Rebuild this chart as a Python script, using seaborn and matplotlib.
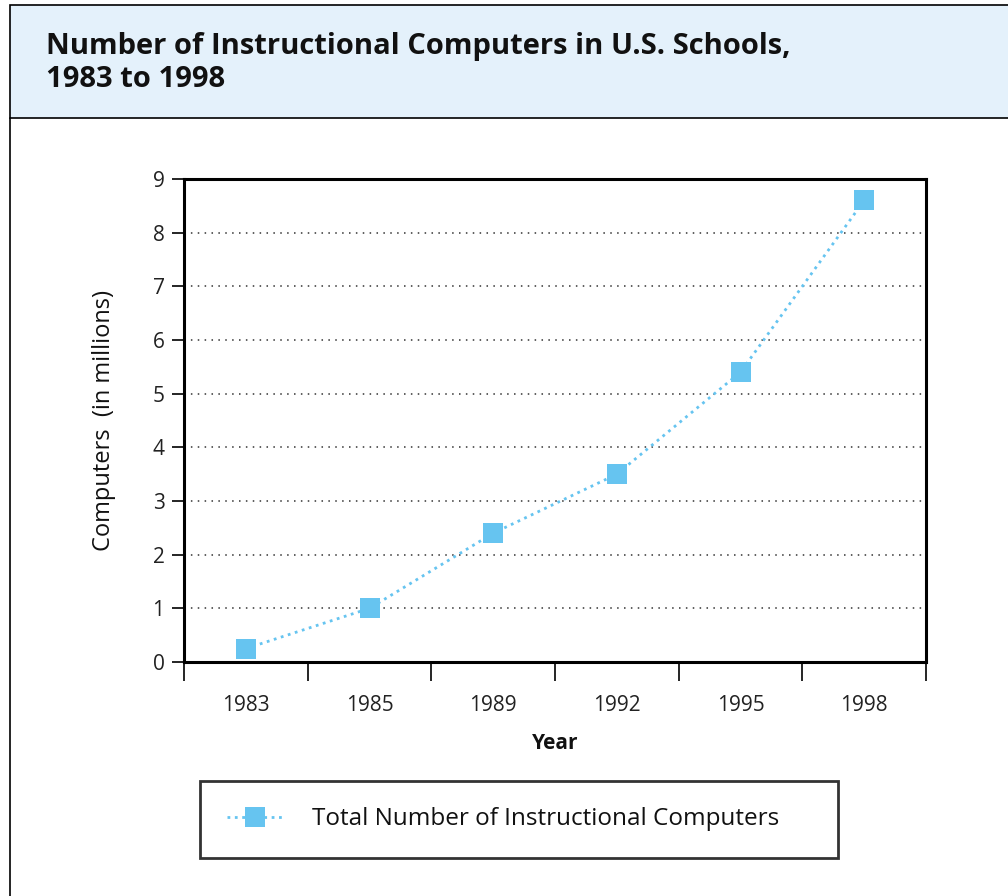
import matplotlib
matplotlib.use('Agg')
import matplotlib.pyplot as plt
from matplotlib.patches import Rectangle
from matplotlib.lines import Line2D
from matplotlib.ticker import FixedLocator
import seaborn as sns
import pandas as pd

years = ['1983', '1985', '1989', '1992', '1995', '1998']
computers = [0.25, 1.0, 2.4, 3.5, 5.4, 8.6]
series_name = 'Total Number of Instructional Computers'
title = 'Number of Instructional Computers in U.S. Schools,\n1983 to 1998'

W, H = 1008, 896
blue = '#66C4F0'

sns.set_style('white')
plt.rcParams['font.family'] = ['Open Sans', 'DejaVu Sans']

fig = plt.figure(figsize=(W / 100, H / 100), dpi=100)

# title box and outer frame
fig.patches.append(Rectangle((10 / W, 1 - 118 / H), 1.0, 113 / H, transform=fig.transFigure,
                             facecolor='#E4F1FB', edgecolor='black', linewidth=1.2))
fig.lines.append(Line2D([10 / W, 10 / W], [0, 1 - 118 / H], transform=fig.transFigure,
                        color='black', linewidth=1.2))
fig.text(46 / W, 1 - 63 / H, title, fontsize=21, fontweight='bold', va='center', ha='left',
         linespacing=1.2, color='#111111')

ax = fig.add_axes([184 / W, 1 - 662 / H, 742 / W, 483 / H])
df = pd.DataFrame({'Year': years, 'Computers': computers})
sns.lineplot(data=df, x='Year', y='Computers', ax=ax, color=blue, marker='s', markersize=14,
             markeredgewidth=0, linestyle=':', linewidth=2, label=series_name, legend=False)

ax.set_xlim(-0.5, len(years) - 0.5)
ax.set_ylim(0, 9)
ax.set_yticks(range(10))
ax.xaxis.set_minor_locator(FixedLocator([i - 0.5 for i in range(len(years) + 1)]))
ax.tick_params(axis='x', which='major', length=0, pad=24, labelsize=15, labelcolor='#222222')
ax.tick_params(axis='x', which='minor', length=14, width=1.2, color='black', direction='out', bottom=True)
ax.tick_params(axis='y', length=9, width=1.2, color='black', direction='out', left=True,
               labelsize=15, labelcolor='#222222', pad=5)
for y in range(1, 9):
    ax.axhline(y, color='#333333', linewidth=1.1, linestyle=(0, (1, 3.5)), zorder=0)
for s in ax.spines.values():
    s.set_visible(True)
    s.set_color('black')
    s.set_linewidth(2.2)

ax.set_xlabel('Year', fontsize=15, fontweight='bold', labelpad=12, color='#111111')
ax.set_ylabel('Computers  (in millions)', fontsize=17, labelpad=26, color='#111111')

handles, labels = ax.get_legend_handles_labels()
leg = fig.legend(handles, labels, loc='lower left', mode='expand',
                 bbox_to_anchor=(200 / W, 1 - 858 / H, 638 / W, 85 / H),
                 fontsize=17.5, frameon=True, fancybox=False, borderpad=1.1,
                 handlelength=2.3, handletextpad=1.2, borderaxespad=0)
leg.get_frame().set_edgecolor('black')
leg.get_frame().set_linewidth(2)
for t in leg.get_texts():
    t.set_color('#111111')

fig.savefig('out.png', dpi=100)
